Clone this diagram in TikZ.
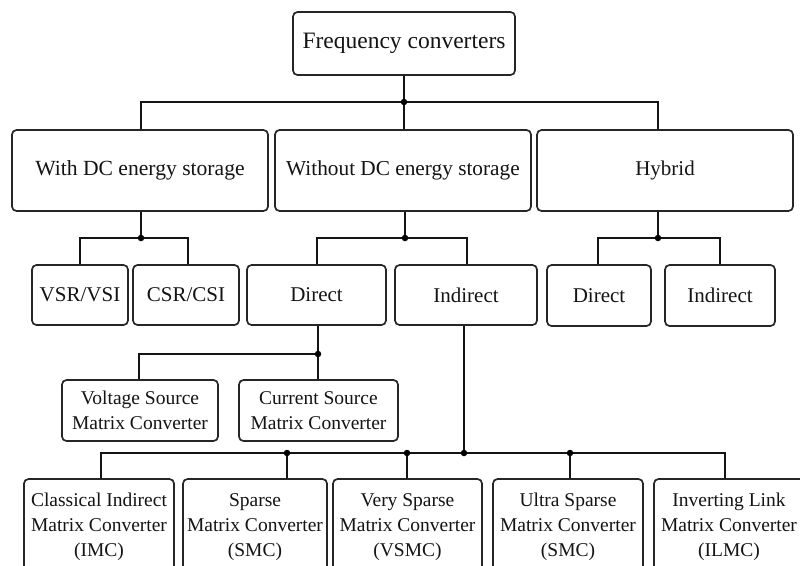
\documentclass[tikz,border=0pt]{standalone}
\usepackage{fontspec}
\setmainfont{Liberation Serif}
\begin{document}
\begin{tikzpicture}[x=1pt,y=-1pt,
  box/.style={draw=black!85, line width=1.7pt, rounded corners=4.5pt, inner sep=0pt,
    align=center, font=\fontsize{21}{25}\selectfont, text=black!92},
  mbox/.style={box, font=\fontsize{19.5}{25}\selectfont},
  conn/.style={draw=black!92, line width=2pt},
  jdot/.style={fill=black, circle, inner sep=0pt, minimum size=6.5pt}]
\useasboundingbox (0,0) rectangle (800,565);
\clip (0,0) rectangle (800,565);
\fill[white] (0,0) rectangle (800,565);
% level 0
\node[box, minimum width=222pt, minimum height=63pt, font=\fontsize{23.5}{28}\selectfont] (fc) at (404,43.5) {Frequency converters};
% level 1
\node[box, minimum width=256pt, minimum height=81pt, font=\fontsize{21.6}{25}\selectfont] (wdc) at (140,170.5) {With DC energy storage};
\node[box, minimum width=256pt, minimum height=81pt, font=\fontsize{21.3}{25}\selectfont] (wodc) at (403,170.5) {Without DC energy storage};
\node[box, minimum width=256pt, minimum height=81pt] (hyb) at (665,170.5) {Hybrid};
% level 2
\node[box, minimum width=96pt, minimum height=60pt] (vsr) at (80,295) {VSR/VSI};
\node[box, minimum width=106pt, minimum height=60pt] (csr) at (186,295) {CSR/CSI};
\node[box, minimum width=139pt, minimum height=60pt] (dir) at (316.5,295) {Direct};
\node[box, minimum width=142pt, minimum height=60pt] (ind) at (466,295) {Indirect};
\node[box, minimum width=104pt, minimum height=61pt] (hdir) at (599,295.5) {Direct};
\node[box, minimum width=110pt, minimum height=61pt] (hind) at (720,295.5) {Indirect};
% level 3
\node[mbox, minimum width=156pt, minimum height=61pt] (vsmc) at (140,410.5) {Voltage Source\\Matrix Converter};
\node[mbox, minimum width=159pt, minimum height=61pt] (csmc) at (318.5,410.5) {Current Source\\Matrix Converter};
% level 4
\node[mbox, minimum width=150pt, minimum height=96pt] (imc) at (99,527) {Classical Indirect\\Matrix Converter\\(IMC)};
\node[mbox, minimum width=144pt, minimum height=96pt] (smc) at (255,527) {Sparse\\Matrix Converter\\(SMC)};
\node[mbox, minimum width=149pt, minimum height=96pt] (vsp) at (407.5,527) {Very Sparse\\Matrix Converter\\(VSMC)};
\node[mbox, minimum width=150pt, minimum height=96pt] (usmc) at (568,527) {Ultra Sparse\\Matrix Converter\\(SMC)};
\node[mbox, minimum width=150pt, minimum height=96pt] (ilmc) at (729,527) {Inverting Link\\Matrix Converter\\(ILMC)};
% junctions
\coordinate (j1) at (404,102);
\coordinate (j2) at (141,238);
\coordinate (j3) at (405,238);
\coordinate (j4) at (658,238);
\coordinate (j5) at (318,354);
\coordinate (j6) at (464,453);
\coordinate (k1) at (287,453);
\coordinate (k2) at (407,453);
\coordinate (k3) at (570,453);
% connectors level 0 -> 1
\draw[conn] (fc.south) -- (j1);
\draw[conn] (j1) -- (wodc.north -| j1);
\draw[conn] (wdc.north -| j2) |- (j1) -| (hyb.north -| j4);
% with DC
\draw[conn] (wdc.south -| j2) -- (j2);
\draw[conn] (vsr.north) |- (j2) -| ([xshift=2pt]csr.north);
% without DC
\draw[conn] (wodc.south -| j3) -- (j3);
\draw[conn] (dir.north -| 317,0) |- (j3) -| (ind.north -| 467,0);
% hybrid
\draw[conn] (hyb.south -| j4) -- (j4);
\draw[conn] (hdir.north -| 598,0) |- (j4) -| (hind.north);
% direct
\draw[conn] (dir.south -| j5) -- (csmc.north -| j5);
\draw[conn] (j5) -| (vsmc.north -| 139,0);
% indirect
\draw[conn] (ind.south -| j6) -- (j6);
\draw[conn] (imc.north -| 101,0) |- (j6) -| (ilmc.north -| 725,0);
\draw[conn] (k1) -- (smc.north -| k1);
\draw[conn] (k2) -- (vsp.north -| k2);
\draw[conn] (k3) -- (usmc.north -| k3);
% dots
\foreach \p in {j1,j2,j3,j4,j5,j6,k1,k2,k3} \node[jdot] at (\p) {};
\end{tikzpicture}
\end{document}
